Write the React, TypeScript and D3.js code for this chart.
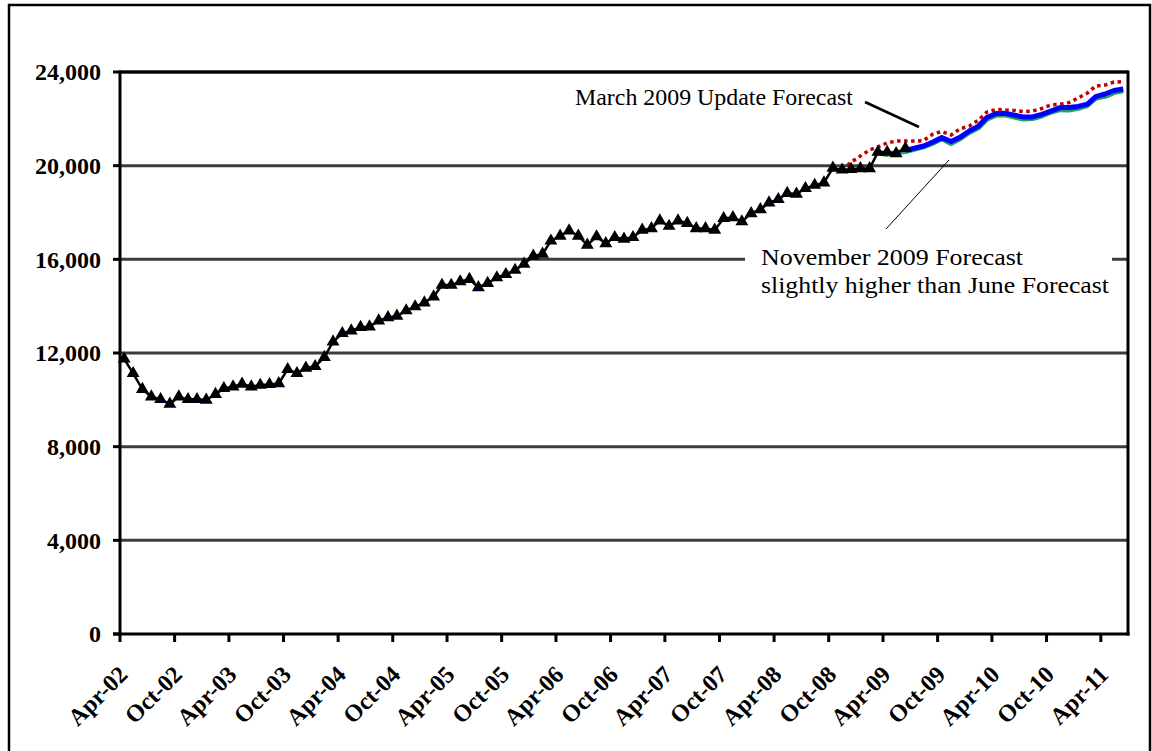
import * as d3 from 'd3';

// monthly values, first value = Apr-02
const actual = [
  11750, 11130, 10450, 10130, 10020, 9820, 10130, 10020, 10020, 9990,
  10240, 10490, 10560, 10680, 10560, 10630, 10660, 10700, 11300, 11130,
  11360, 11430, 11820, 12480, 12840, 12950, 13100, 13120, 13380, 13520,
  13580, 13810, 13980, 14150, 14400, 14900, 14900, 15050, 15150, 14800,
  14980, 15220, 15360, 15540, 15800, 16140, 16230, 16790, 17000, 17220,
  17000, 16610, 16970, 16680, 16940, 16870, 16940, 17250, 17320, 17650,
  17420, 17650, 17540, 17320, 17320, 17250, 17750, 17790, 17610, 17960,
  18130, 18420, 18560, 18820, 18790, 19030, 19170, 19270, 19900, 19820,
  19850, 19880, 19880, 20580, 20580, 20520, 20740,
];

// March 2009 update forecast, starts Nov-08
const marchStart = 79;
const marchForecast = [
  19820, 20150, 20410, 20670, 20800, 20970, 21050, 21050, 21050, 21070,
  21350, 21460, 21310, 21570, 21690, 21950, 22290, 22400, 22380, 22360,
  22310, 22330, 22440, 22590, 22620, 22690, 22890, 23100, 23400, 23440,
  23570, 23590,
];

// June forecast, starts Mar-09
const juneStart = 83;
const juneForecast = [
  20550, 20480, 20560, 20600, 20700, 20800, 20960, 21150, 20950, 21150,
  21420, 21620, 21980, 22150, 22170, 22080, 21990, 22010, 22120, 22280,
  22390, 22380, 22450, 22570, 22880, 22960, 23120, 23200,
];

// November 2009 forecast, starts Jun-09
const novStart = 86;
const novForecast = [
  20650, 20750, 20840, 21010, 21200, 21030, 21210, 21480, 21690, 22060,
  22230, 22240, 22160, 22080, 22080, 22190, 22330, 22480, 22480, 22530,
  22630, 22950, 23060, 23210, 23270,
];

const yTicks = [0, 4000, 8000, 12000, 16000, 20000, 24000];

const W = 1152;
const H = 751;
const left = 120;
const right = 1128;
const top = 72;
const bottom = 634;
const font = '"Liberation Serif", "Times New Roman", serif';

const monthDate = (m: number) => new Date(2002, 3 + m, 15);

const x = d3
  .scaleTime()
  .domain([new Date(2002, 3, 1), new Date(2011, 6, 1)])
  .range([left, right]);
const y = d3.scaleLinear().domain([0, 24000]).range([bottom, top]);

const xTicks = d3.timeMonth.range(new Date(2002, 3, 1), new Date(2011, 4, 1), 6);
const fmt = d3.timeFormat('%b-%y');

type Pt = { m: number; v: number };
const toPts = (vals: number[], start: number): Pt[] =>
  vals.map((v, i) => ({ m: start + i, v }));

const line = d3
  .line<Pt>()
  .x((d) => x(monthDate(d.m)))
  .y((d) => y(d.v));

const actualPts = toPts(actual, 0);
const tri = d3.symbol().type(d3.symbolTriangle).size(72)();

export default function App() {
  return (
    <svg
      width={W}
      height={H}
      style={{ position: 'absolute', left: 0, top: 0, background: '#fff' }}
    >
      <rect x={0} y={0} width={W} height={H} fill="#fff" />
      <rect x={9} y={5} width={1141} height={800} fill="none" stroke="#000" strokeWidth={2.5} />

      {/* gridlines */}
      {yTicks.slice(1).map((t) => (
        <line key={t} x1={left} x2={right} y1={y(t)} y2={y(t)} stroke="#3c3c3c" strokeWidth={3} />
      ))}

      {/* annotation box hides the gridline */}
      <rect x={745} y={240} width={367} height={62} fill="#fff" />
      <text x={761} y={265} fontFamily={font} fontSize={24} fill="#000" textLength={262} lengthAdjust="spacingAndGlyphs">
        November 2009 Forecast
      </text>
      <text x={761} y={293} fontFamily={font} fontSize={24} fill="#000" textLength={348} lengthAdjust="spacingAndGlyphs">
        slightly higher than June Forecast
      </text>
      <line x1={886} y1={229} x2={949} y2={160} stroke="#000" strokeWidth={1} />

      <text x={575} y={105} fontFamily={font} fontSize={24} fill="#000" textLength={278} lengthAdjust="spacingAndGlyphs">
        March 2009 Update Forecast
      </text>
      <line x1={865} y1={102} x2={919} y2={127} stroke="#000" strokeWidth={2.5} />

      {/* series */}
      <path d={line(toPts(juneForecast, juneStart)) ?? ''} fill="none" stroke="#1da55a" strokeWidth={5} strokeLinejoin="round" />
      <path d={line(toPts(novForecast, novStart)) ?? ''} fill="none" stroke="#0000ff" strokeWidth={5} strokeLinejoin="round" />
      <path d={line(toPts(marchForecast, marchStart)) ?? ''} fill="none" stroke="#c00000" strokeWidth={3.5} strokeDasharray="3.5 3.5" />
      <path d={line(actualPts) ?? ''} fill="none" stroke="#000" strokeWidth={2.5} />
      {actualPts.map((d) => (
        <g key={d.m} transform={`translate(${x(monthDate(d.m))},${y(d.v)})`}>
          <path d={tri ?? ''} fill="#000" />
          <circle r={0.8} cy={1} fill="#000080" />
        </g>
      ))}

      {/* plot border and axes */}
      <line x1={left} x2={right} y1={top} y2={top} stroke="#000" strokeWidth={3} />
      <line x1={right} x2={right} y1={top - 1.5} y2={bottom + 1.5} stroke="#000" strokeWidth={3} />
      <line x1={left} x2={left} y1={top - 1.5} y2={bottom + 1.5} stroke="#000" strokeWidth={3} />
      <line x1={left - 7} x2={right + 1.5} y1={bottom} y2={bottom} stroke="#000" strokeWidth={3} />

      {yTicks.map((t) => (
        <g key={t}>
          <line x1={left - 7} x2={left} y1={y(t)} y2={y(t)} stroke="#000" strokeWidth={3} />
          <text
            x={101}
            y={y(t)}
            dy="0.35em"
            textAnchor="end"
            fontFamily={font}
            fontWeight="bold"
            fontSize={24}
            fill="#000"
          >
            {d3.format(',')(t)}
          </text>
        </g>
      ))}

      {xTicks.map((t) => (
        <g key={+t}>
          <line x1={x(t)} x2={x(t)} y1={bottom} y2={bottom + 8} stroke="#000" strokeWidth={3} />
          <text
            transform={`translate(${x(t) + 9},${676}) rotate(-45)`}
            textAnchor="end"
            fontFamily={font}
            fontWeight="bold"
            fontSize={24}
            fill="#000"
          >
            {fmt(t)}
          </text>
        </g>
      ))}
    </svg>
  );
}
